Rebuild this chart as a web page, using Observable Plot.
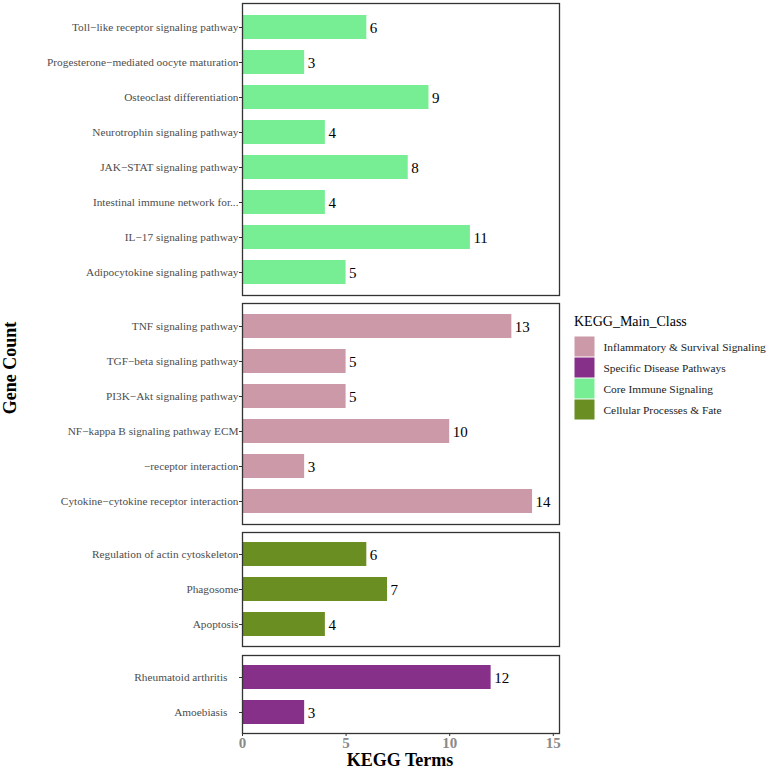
<!DOCTYPE html>
<html>
<head>
<meta charset="utf-8">
<script src="https://cdn.jsdelivr.net/npm/d3@7"></script>
<script src="https://cdn.jsdelivr.net/npm/@observablehq/plot@0.6"></script>
<style>
  html, body { margin: 0; padding: 0; background: #fff; }
  #chart { position: relative; width: 767px; height: 770px; font-family: "Liberation Serif", "Times New Roman", serif; }
  .panel { position: absolute; left: 0; }
  #chart svg, #chart svg text { font-family: "Liberation Serif", "Times New Roman", serif !important; }
  .ttl { position: absolute; font-weight: bold; color: #000; white-space: nowrap; }
</style>
</head>
<body>
<div id="chart"></div>
<script>
// ---- data ----
const classes = ["Inflammatory & Survival Signaling", "Specific Disease Pathways", "Core Immune Signaling", "Cellular Processes & Fate"];
const classColors = ["#CC99A8", "#87308A", "#78EE94", "#6B8E23"];
const panelOrder = ["Core Immune Signaling", "Inflammatory & Survival Signaling", "Cellular Processes & Fate", "Specific Disease Pathways"];

const terms = [
  "Toll\u2212like receptor signaling pathway",
  "Progesterone\u2212mediated oocyte maturation",
  "Osteoclast differentiation",
  "Neurotrophin signaling pathway",
  "JAK\u2212STAT signaling pathway",
  "Intestinal immune network for...",
  "IL\u221217 signaling pathway",
  "Adipocytokine signaling pathway",
  "TNF signaling pathway",
  "TGF\u2212beta signaling pathway",
  "PI3K\u2212Akt signaling pathway",
  "NF\u2212kappa B signaling pathway ECM",
  "\u2212receptor interaction",
  "Cytokine\u2212cytokine receptor interaction",
  "Regulation of actin cytoskeleton",
  "Phagosome",
  "Apoptosis",
  "Rheumatoid arthritis",
  "Amoebiasis"
];
const counts = [6, 3, 9, 4, 8, 4, 11, 5, 13, 5, 5, 10, 3, 14, 6, 7, 4, 12, 3];
const termClass = [
  "Core Immune Signaling", "Core Immune Signaling", "Core Immune Signaling", "Core Immune Signaling",
  "Core Immune Signaling", "Core Immune Signaling", "Core Immune Signaling", "Core Immune Signaling",
  "Inflammatory & Survival Signaling", "Inflammatory & Survival Signaling", "Inflammatory & Survival Signaling",
  "Inflammatory & Survival Signaling", "Inflammatory & Survival Signaling", "Inflammatory & Survival Signaling",
  "Cellular Processes & Fate", "Cellular Processes & Fate", "Cellular Processes & Fate",
  "Specific Disease Pathways", "Specific Disease Pathways"
];
const xTicks = [0, 5, 10, 15];

// ---- build ----
const rows = terms.map((t, i) => ({term: t, count: counts[i], cls: termClass[i]}));
const root = document.getElementById("chart");
const FONT = "Liberation Serif, Times New Roman, serif";
const unit = 35.58;
const gap = 8.5;
const W = 561, ML = 242, MR = 2;
let yPos = 3;

panelOrder.forEach((cls, pi) => {
  const data = rows.filter(d => d.cls === cls);
  const n = data.length;
  const h = (n + 0.2) * unit;
  const last = pi === panelOrder.length - 1;
  const mb = last ? 28 : 0;
  const svg = Plot.plot({
    width: W,
    height: Math.round(h) + mb,
    marginLeft: ML,
    marginRight: MR,
    marginTop: 0,
    marginBottom: mb,
    style: {fontFamily: FONT, background: "transparent", overflow: "visible"},
    x: {domain: [0, 15.3], ticks: xTicks, axis: null},
    y: {domain: data.map(d => d.term), paddingInner: 0.32, paddingOuter: 0.26, axis: null},
    color: {domain: classes, range: classColors},
    marks: [
      Plot.barX(data, {x: "count", y: "term", fill: "cls"}),
      Plot.text(data, {x: "count", y: "term", text: d => String(d.count), textAnchor: "start", dx: 3, dy: 1, fontSize: 15, fontFamily: FONT, fill: "#000"}),
      Plot.axisY({tickSize: 3, tickPadding: last ? 12 : 1, fontSize: 11.3, fontFamily: FONT, fill: "#4D4D4D", stroke: "#333", label: null}),
      last ? Plot.axisX({ticks: xTicks, tickSize: 3, tickPadding: 1, fontSize: 15, fontFamily: FONT, fontWeight: "bold", fill: "#8A8A8A", stroke: "#333", label: null}) : null,
      Plot.frame({stroke: "#333", strokeWidth: 1.3})
    ]
  });
  svg.classList.add("panel");
  svg.style.top = yPos + "px";
  root.appendChild(svg);
  yPos += h + gap;
});

// axis titles
const xt = document.createElement("div");
xt.className = "ttl";
xt.textContent = "KEGG Terms";
xt.style.fontSize = "18px";
xt.style.left = "400px";
xt.style.top = "751px";
xt.style.lineHeight = "18px";
xt.style.transform = "translateX(-50%)";
root.appendChild(xt);

const yt = document.createElement("div");
yt.className = "ttl";
yt.textContent = "Gene Count";
yt.style.fontSize = "18px";
yt.style.left = "10px";
yt.style.top = "368px";
yt.style.transform = "translate(-50%, -50%) rotate(-90deg)";
root.appendChild(yt);

// legend
const lt = document.createElement("div");
lt.className = "ttl";
lt.style.fontWeight = "normal";
lt.textContent = "KEGG_Main_Class";
lt.style.fontSize = "14px";
lt.style.left = "574px";
lt.style.top = "314px";
root.appendChild(lt);

const leg = Plot.plot({
  width: 193,
  height: 84,
  margin: 0,
  style: {fontFamily: FONT, background: "transparent", overflow: "visible"},
  x: {domain: ["key"], range: [0, 21], padding: 0, axis: null},
  y: {domain: classes, range: [0, 84], padding: 0, axis: null},
  color: {domain: classes, range: classColors},
  marks: [
    Plot.cell(classes, {x: () => "key", y: d => d, fill: d => d, inset: 0.5}),
    Plot.text(classes, {x: () => "key", y: d => d, text: d => d, textAnchor: "start", dx: 18.5, fontSize: 11.4, fontFamily: FONT, fill: "#222"})
  ]
});
leg.classList.add("panel");
leg.style.left = "574px";
leg.style.top = "336px";
root.appendChild(leg);
</script>
</body>
</html>
